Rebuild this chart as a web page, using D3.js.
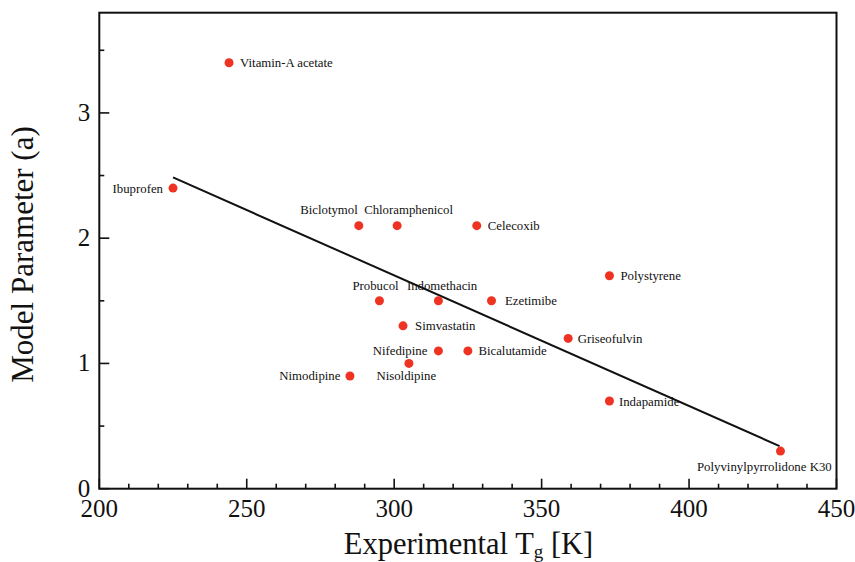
<!DOCTYPE html>
<html>
<head>
<meta charset="utf-8">
<script src="https://cdn.jsdelivr.net/npm/d3@7"></script>
<style>
  html, body { margin: 0; padding: 0; background: #fff; }
  svg { display: block; font-family: "Liberation Serif", "Times New Roman", serif; }
</style>
</head>
<body>
<svg id="chart" width="855" height="562"></svg>
<script>
// Compounds and their glass transition temperature (K) vs. fitted model parameter a
const compounds = ["Vitamin-A acetate", "Ibuprofen", "Biclotymol", "Chloramphenicol", "Celecoxib",
  "Probucol", "Indomethacin", "Ezetimibe", "Simvastatin", "Nifedipine", "Bicalutamide",
  "Nisoldipine", "Nimodipine", "Polystyrene", "Griseofulvin", "Indapamide", "Polyvinylpyrrolidone K30"];
const tg = [244, 225, 288, 301, 328, 295, 315, 333, 303, 315, 325, 305, 285, 373, 359, 373, 431];
const paramA = [3.4, 2.4, 2.1, 2.1, 2.1, 1.5, 1.5, 1.5, 1.3, 1.1, 1.1, 1.0, 0.9, 1.7, 1.2, 0.7, 0.3];

// Linear trend line endpoints (Tg, a)
const trendTg = [225, 430.7];
const trendA = [2.485, 0.34];

// Axis ticks
const xMajorTicks = [200, 250, 300, 350, 400, 450];
const yMajorTicks = [0, 1, 2, 3];

// Label placement around each marker: anchor, x offset, baseline offset (px)
const labelPlacement = {
  "Vitamin-A acetate": ["start", 11, 4.5],
  "Ibuprofen": ["end", -10, 4.5],
  "Biclotymol": ["end", -1, -11.5],
  "Chloramphenicol": ["start", -33, -11.5],
  "Celecoxib": ["start", 11, 4.5],
  "Probucol": ["start", -27, -11],
  "Indomethacin": ["start", -31.5, -11],
  "Ezetimibe": ["start", 13.5, 4.5],
  "Simvastatin": ["start", 12, 4.5],
  "Nifedipine": ["end", -11, 4.5],
  "Bicalutamide": ["start", 10.5, 4.5],
  "Nisoldipine": ["start", -32.5, 16.5],
  "Nimodipine": ["end", -9.5, 4.5],
  "Polystyrene": ["start", 11, 4.5],
  "Griseofulvin": ["start", 9.5, 4.5],
  "Indapamide": ["start", 9.5, 4.5],
  "Polyvinylpyrrolidone K30": ["start", -83.5, 19.5]
};

const svg = d3.select("#chart");
const m = { left: 99.3, right: 836.5, top: 12.7, bottom: 488.7 };

const x = d3.scaleLinear().domain([200, 450]).range([m.left, m.right]);
const y = d3.scaleLinear().domain([0, 3.8]).range([m.bottom, m.top]);

const ink = "#111";

// Bottom axis: inward ticks, minor every 10 K
const gx = svg.append("g");
gx.selectAll("line.minor").data(d3.range(200, 451, 10).filter(v => v % 50 !== 0))
  .join("line").attr("class", "minor").attr("x1", d => x(d)).attr("x2", d => x(d))
  .attr("y1", m.bottom).attr("y2", m.bottom - 5).attr("stroke", ink).attr("stroke-width", 1.6);
gx.selectAll("line.major").data(xMajorTicks)
  .join("line").attr("class", "major").attr("x1", d => x(d)).attr("x2", d => x(d))
  .attr("y1", m.bottom).attr("y2", m.bottom - 10).attr("stroke", ink).attr("stroke-width", 1.6);
gx.selectAll("text").data(xMajorTicks).join("text")
  .attr("x", d => x(d)).attr("y", m.bottom + 28).attr("text-anchor", "middle")
  .attr("font-size", 25).attr("fill", ink).text(d => d);

// Left axis: inward ticks, minor every 0.5
const gy = svg.append("g");
gy.selectAll("line.minor").data(d3.range(0.5, 3.8, 1))
  .join("line").attr("class", "minor").attr("x1", m.left).attr("x2", m.left + 5)
  .attr("y1", d => y(d)).attr("y2", d => y(d)).attr("stroke", ink).attr("stroke-width", 1.6);
gy.selectAll("line.major").data(yMajorTicks)
  .join("line").attr("class", "major").attr("x1", m.left).attr("x2", m.left + 10)
  .attr("y1", d => y(d)).attr("y2", d => y(d)).attr("stroke", ink).attr("stroke-width", 1.6);
gy.selectAll("text").data(yMajorTicks).join("text")
  .attr("x", m.left - 9).attr("y", d => y(d) + 8).attr("text-anchor", "end")
  .attr("font-size", 25).attr("fill", ink).text(d => d);

// Frame
svg.append("rect").attr("x", m.left).attr("y", m.top)
  .attr("width", m.right - m.left).attr("height", m.bottom - m.top)
  .attr("fill", "none").attr("stroke", ink).attr("stroke-width", 2);

// Trend line
const line = d3.line().x(d => x(d[0])).y(d => y(d[1]));
svg.append("path").datum(d3.zip(trendTg, trendA))
  .attr("d", line).attr("fill", "none").attr("stroke", ink).attr("stroke-width", 2);

// Points and labels
const data = compounds.map((name, i) => ({ name, tg: tg[i], a: paramA[i] }));
svg.append("g").selectAll("circle").data(data).join("circle")
  .attr("cx", d => x(d.tg)).attr("cy", d => y(d.a)).attr("r", 4.5)
  .attr("fill", "#ef3323");

svg.append("g").selectAll("text").data(data).join("text")
  .attr("x", d => x(d.tg) + labelPlacement[d.name][1])
  .attr("y", d => y(d.a) + labelPlacement[d.name][2])
  .attr("text-anchor", d => labelPlacement[d.name][0])
  .attr("font-size", 12.8).attr("fill", ink)
  .text(d => d.name);

// Axis titles
const xt = svg.append("text").attr("x", 468.5).attr("y", 554)
  .attr("text-anchor", "middle").attr("font-size", 30.5).attr("fill", ink);
xt.append("tspan").text("Experimental T");
xt.append("tspan").attr("font-size", 19).attr("dy", 4).text("g");
xt.append("tspan").attr("dy", -4).text(" [K]");

svg.append("text").attr("transform", `translate(33,254.5) rotate(-90)`)
  .attr("text-anchor", "middle").attr("font-size", 31).attr("fill", ink)
  .text("Model Parameter (a)");
</script>
</body>
</html>
